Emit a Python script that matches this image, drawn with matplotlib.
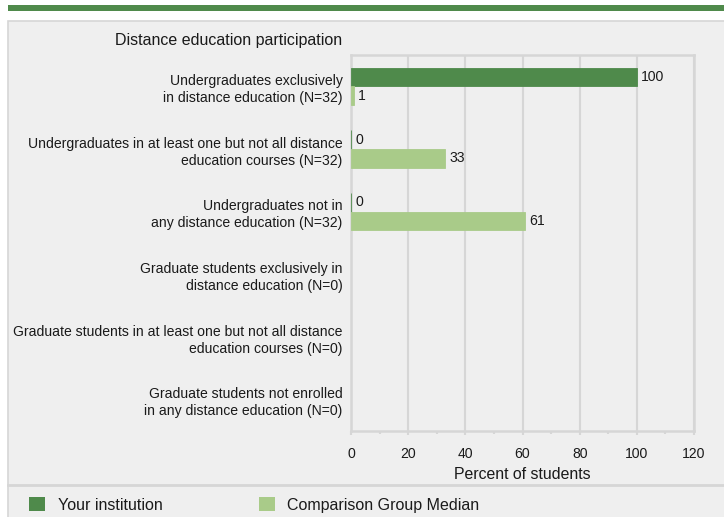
"""
Distance education participation: institution vs comparison group median
"""

import numpy as np
import matplotlib
matplotlib.use('Agg')
import matplotlib.pyplot as plt
from matplotlib.patches import Rectangle, Patch
from matplotlib.lines import Line2D
from matplotlib.ticker import MultipleLocator

# data
categories = ['Undergraduates exclusively\nin distance education (N=32)',
              'Undergraduates in at least one but not all distance\neducation courses (N=32)',
              'Undergraduates not in\nany distance education (N=32)',
              'Graduate students exclusively in\ndistance education (N=0)',
              'Graduate students in at least one but not all distance\neducation courses (N=0)',
              'Graduate students not enrolled\nin any distance education (N=0)']
institution = [100, 0, 0, np.nan, np.nan, np.nan]
group_median = [1, 33, 61, np.nan, np.nan, np.nan]
xticks = [0, 20, 40, 60, 80, 100, 120]

# styles
dark_green  = '#4f8a4b'
light_green = '#a9cb89'
panel_bg    = '#efefef'
border_col  = '#d6d6d6'
text_col    = '#1a1a1a'
ftsize      = 10.1

plt.rc('font', family=['Liberation Sans', 'DejaVu Sans'])

W, H = 724, 517
fig = plt.figure(figsize=(W/100, H/100), dpi=100)
fig.patch.set_facecolor('white')

def fx(px):
    return px / W

def fy(py):
    return 1.0 - py / H

# green band and grey panel
fig.patches.append(Rectangle((fx(8), fy(11)), fx(W), 6/H, transform=fig.transFigure,
                             facecolor=dark_green, edgecolor='none', zorder=-3))
fig.patches.append(Rectangle((fx(8), fy(H+5)), fx(W), (H-21+5)/H, transform=fig.transFigure,
                             facecolor=panel_bg, edgecolor=border_col, lw=1.2, zorder=-3))
fig.lines.append(Line2D([fx(8), 1.0], [fy(485), fy(485)], transform=fig.transFigure,
                        color=border_col, lw=2, zorder=-2))

# axes
ax = fig.add_axes([fx(351), fy(431), fx(694) - fx(351), fy(55) - fy(431)])
ax.set_facecolor(panel_bg)

y = np.arange(len(categories))
h = 0.3
ax.barh(y - h/2, institution, height=h, color=dark_green,
        edgecolor=dark_green, lw=0.6, zorder=3)
ax.barh(y + h/2, group_median, height=h, color=light_green,
        edgecolor=light_green, lw=0.6, zorder=3)

for i in range(len(categories)):
    for v, off in ((institution[i], -h/2), (group_median[i], h/2)):
        if np.isnan(v):
            continue
        ax.annotate('{0:.0f}'.format(v), xy=(v, y[i] + off), xytext=(3, 0),
                    textcoords='offset points', va='center', ha='left',
                    fontsize=ftsize, color=text_col)

ax.set_xlim(0, 120)
ax.set_ylim(len(categories) - 0.5, -0.5)
ax.set_xticks(xticks)
ax.xaxis.set_minor_locator(MultipleLocator(10))
ax.set_yticks(y)
ax.set_yticklabels(categories, fontsize=ftsize, color=text_col, linespacing=1.3)
ax.tick_params(axis='y', length=0, pad=6)
ax.tick_params(axis='x', which='major', length=3, width=1.5, color=border_col,
               labelsize=ftsize, labelcolor=text_col, pad=8.5)
ax.tick_params(axis='x', which='minor', length=2, width=1.5, color=border_col)

ax.grid(axis='x', color=border_col, lw=1.5, zorder=1)
ax.set_axisbelow(True)
for s in ax.spines.values():
    s.set_color(border_col)
    s.set_linewidth(1.8)

ax.set_xlabel('Percent of students', fontsize=11.4, color=text_col, labelpad=4.5)

fig.text(fx(115), fy(41), 'Distance education participation', fontsize=11.5,
         color=text_col, ha='left', va='center')

# legend
handles = [Patch(facecolor=dark_green, edgecolor='none'),
           Patch(facecolor=light_green, edgecolor='none')]
fig.legend(handles, ['Your institution', 'Comparison Group Median'],
           loc='center left', bbox_to_anchor=(fx(15), fy(505)), ncol=2,
           frameon=False, fontsize=11.5, handlelength=1.0, handleheight=1.0,
           handletextpad=0.8, columnspacing=6.0, labelcolor=text_col)

plt.savefig('out.png', dpi=100, facecolor='white')
